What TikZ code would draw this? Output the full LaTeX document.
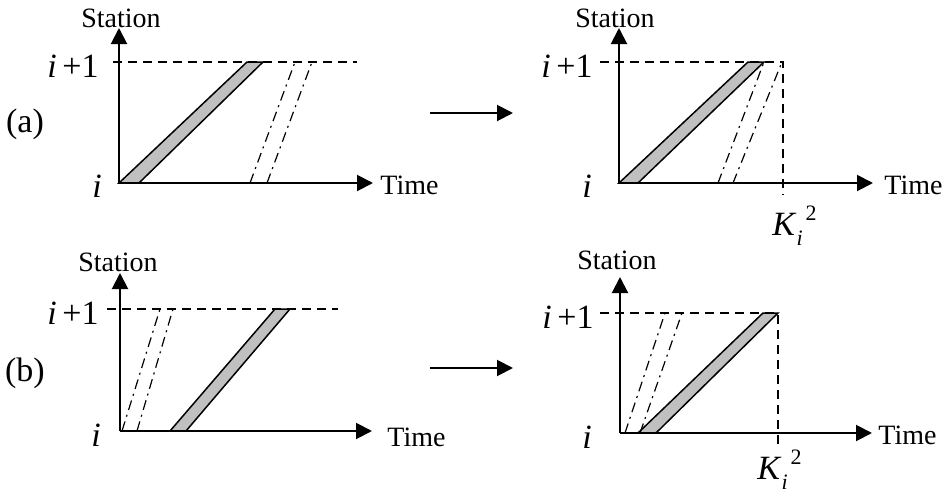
\documentclass[tikz,border=0pt]{standalone}
\usepackage{fontspec}
\setmainfont{Liberation Serif}
\usetikzlibrary{arrows.meta}
\definecolor{bandgray}{HTML}{C0C0C0}
\tikzset{
  axis/.style={line width=1pt, -{Triangle[length=8pt,width=8pt]}},
  band/.style={draw, line width=0.75pt, fill=bandgray, line join=miter},
  trail/.style={line width=0.6pt, dash pattern=on 5pt off 2.5pt on 1pt off 2.5pt},
  guide/.style={line width=0.6pt, dash pattern=on 4.5pt off 3pt},
  txt/.style={font=\fontsize{14}{16}\selectfont, inner sep=0pt},
  big/.style={font=\fontsize{17}{20}\selectfont, inner sep=0pt}
}
\newcommand{\kilabel}{{\fontsize{17}{20}\selectfont\textit{K}}%
  \raisebox{-5pt}{\fontsize{11}{12}\selectfont\textit{i}}\kern1.5pt%
  \raisebox{7.5pt}{\fontsize{11}{12}\selectfont 2}}
\begin{document}
\begin{tikzpicture}[x=0.5pt,y=-0.5pt]
  \useasboundingbox (0,0) rectangle (950,493);
  % (a) before
  \coordinate (oA) at (119,183);
  \coordinate (yA) at (119,28);
  \coordinate (xA) at (373,183);
  \coordinate (gA1) at (113,62);
  \coordinate (gA2) at (357,62);
  \draw[guide] (gA1) -- (gA2);
  \draw[band] (119,183) -- (139,183) -- (263,62) -- (247,62) -- cycle;
  \draw[trail] (250,183) -- (295,62);
  \draw[trail] (267,183) -- (312,62);
  \draw[axis] (oA) -- (yA);
  \draw[axis] (oA) -- (xA);
  \node[txt] (stA) at (121,18) {Station};
  \node[txt, anchor=west] (tmA) at (380,185) {Time};
  \node[big, anchor=east] (upA) at (99,66) {\textit{i}\,+1};
  \node[big] (loA) at (97,186) {\textit{i}};
  \node[big] (capA) at (25,124) {(a)};
  % (a) after
  \coordinate (oB) at (619,183);
  \coordinate (yB) at (619,28);
  \coordinate (xB) at (873,183);
  \coordinate (gB1) at (600,62);
  \coordinate (gB2) at (783,62);
  \coordinate (gB3) at (783,195);
  \draw[guide] (gB1) -- (gB2) -- (gB3);
  \draw[band] (619,183) -- (638,183) -- (764,62) -- (748,62) -- cycle;
  \draw[trail] (718,183) -- (764,62);
  \draw[trail] (733,183) -- (782,62);
  \draw[axis] (oB) -- (yB);
  \draw[axis] (oB) -- (xB);
  \node[txt] (stB) at (615,18) {Station};
  \node[txt, anchor=west] (tmB) at (884,185) {Time};
  \node[big, anchor=east] (upB) at (593,66) {\textit{i}\,+1};
  \node[big] (loB) at (587,186) {\textit{i}};
  \node[inner sep=0pt, anchor=base west] (kB) at (772,235) {\kilabel};
  % (b) before
  \coordinate (oC) at (120,431);
  \coordinate (yC) at (120,273);
  \coordinate (xC) at (372,431);
  \coordinate (gC1) at (107,309);
  \coordinate (gC2) at (338,309);
  \draw[guide] (gC1) -- (gC2);
  \draw[band] (170,431) -- (186,431) -- (290,309) -- (275,309) -- cycle;
  \draw[trail] (122,431) -- (160,309);
  \draw[trail] (137,431) -- (173,309);
  \draw[axis] (oC) -- (yC);
  \draw[axis] (oC) -- (xC);
  \node[txt] (stC) at (118,262) {Station};
  \node[txt, anchor=west] (tmC) at (387,437) {Time};
  \node[big, anchor=east] (upC) at (99,313) {\textit{i}\,+1};
  \node[big] (loC) at (96,435) {\textit{i}};
  \node[big] (capC) at (25,373) {(b)};
  % (b) after
  \coordinate (oD) at (620,433);
  \coordinate (yD) at (620,277);
  \coordinate (xD) at (872,433);
  \coordinate (gD1) at (600,313);
  \coordinate (gD2) at (778,313);
  \coordinate (gD3) at (778,444);
  \draw[guide] (gD1) -- (gD2) -- (gD3);
  \draw[band] (638,433) -- (656,433) -- (778,313) -- (763,313) -- cycle;
  \draw[trail] (625,433) -- (665,313);
  \draw[trail] (640,433) -- (682,313);
  \draw[axis] (oD) -- (yD);
  \draw[axis] (oD) -- (xD);
  \node[txt] (stD) at (617,260) {Station};
  \node[txt, anchor=west] (tmD) at (878,435) {Time};
  \node[big, anchor=east] (upD) at (594,317) {\textit{i}\,+1};
  \node[big] (loD) at (587,437) {\textit{i}};
  \node[inner sep=0pt, anchor=base west] (kD) at (757,479) {\kilabel};
  % transitions
  \coordinate (mA1) at (430,113);
  \coordinate (mA2) at (513,113);
  \coordinate (mB1) at (430,368);
  \coordinate (mB2) at (513,368);
  \draw[axis] (mA1) -- (mA2);
  \draw[axis] (mB1) -- (mB2);
\end{tikzpicture}
\end{document}
